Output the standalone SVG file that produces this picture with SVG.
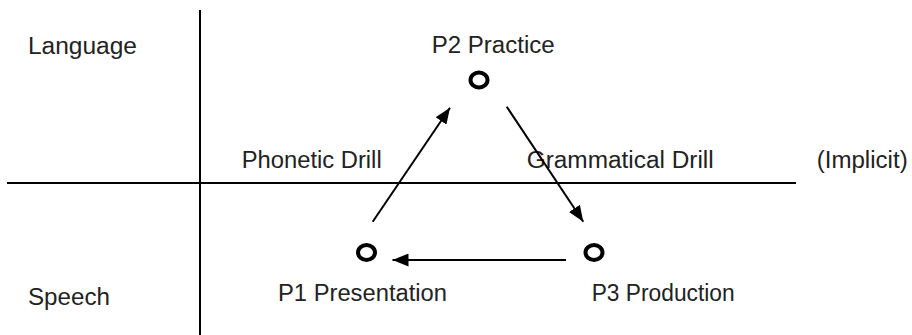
<svg xmlns="http://www.w3.org/2000/svg" width="912" height="335" viewBox="0 0 912 335">
  <style>
    .lbl { font-family: "Liberation Sans", Arial, sans-serif; font-size: 23px; fill: #222; }
    .axis { stroke: #000; stroke-width: 2; fill: none; }
    .conn { stroke: #000; stroke-width: 2; fill: none; marker-end: url(#arrow); }
    .node { fill: none; stroke: #000; stroke-width: 4; }
  </style>
  <defs>
    <marker id="arrow" markerUnits="userSpaceOnUse" markerWidth="17" markerHeight="13" refX="16" refY="6.5" orient="auto">
      <path d="M0,0 L16,6.5 L0,13 Z" fill="#000"/>
    </marker>
  </defs>
  <rect width="912" height="335" fill="#fff"/>

  <g id="axes">
    <line class="axis" x1="200" y1="10" x2="200" y2="335"/>
    <line class="axis" x1="7" y1="183" x2="796" y2="183"/>
  </g>

  <g id="quadrant-labels">
    <text class="lbl" x="28" y="54" textLength="109" lengthAdjust="spacingAndGlyphs">Language</text>
    <text class="lbl" x="28" y="305" textLength="82" lengthAdjust="spacingAndGlyphs">Speech</text>
    <text class="lbl" x="241.7" y="168" textLength="140" lengthAdjust="spacingAndGlyphs">Phonetic Drill</text>
    <text class="lbl" x="526.7" y="168" textLength="187" lengthAdjust="spacingAndGlyphs">Grammatical Drill</text>
    <text class="lbl" x="816.7" y="168" textLength="91" lengthAdjust="spacingAndGlyphs">(Implicit)</text>
  </g>

  <g id="connectors">
    <line class="conn" x1="372.7" y1="221.7" x2="450" y2="107.7"/>
    <line class="conn" x1="506.7" y1="106.7" x2="583.3" y2="221.7"/>
    <line class="conn" x1="566" y1="260" x2="392.5" y2="260"/>
  </g>

  <g id="p2">
    <ellipse class="node" cx="479" cy="80" rx="8.5" ry="7.5"/>
    <text class="lbl" x="431.7" y="53" textLength="123" lengthAdjust="spacingAndGlyphs">P2 Practice</text>
  </g>

  <g id="p1">
    <ellipse class="node" cx="366.5" cy="252.5" rx="8.5" ry="7.5"/>
    <text class="lbl" x="278" y="300.5" textLength="169" lengthAdjust="spacingAndGlyphs">P1 Presentation</text>
  </g>

  <g id="p3">
    <ellipse class="node" cx="594" cy="252.5" rx="8.5" ry="7.5"/>
    <text class="lbl" x="591.7" y="300.5" textLength="143" lengthAdjust="spacingAndGlyphs">P3 Production</text>
  </g>
</svg>
